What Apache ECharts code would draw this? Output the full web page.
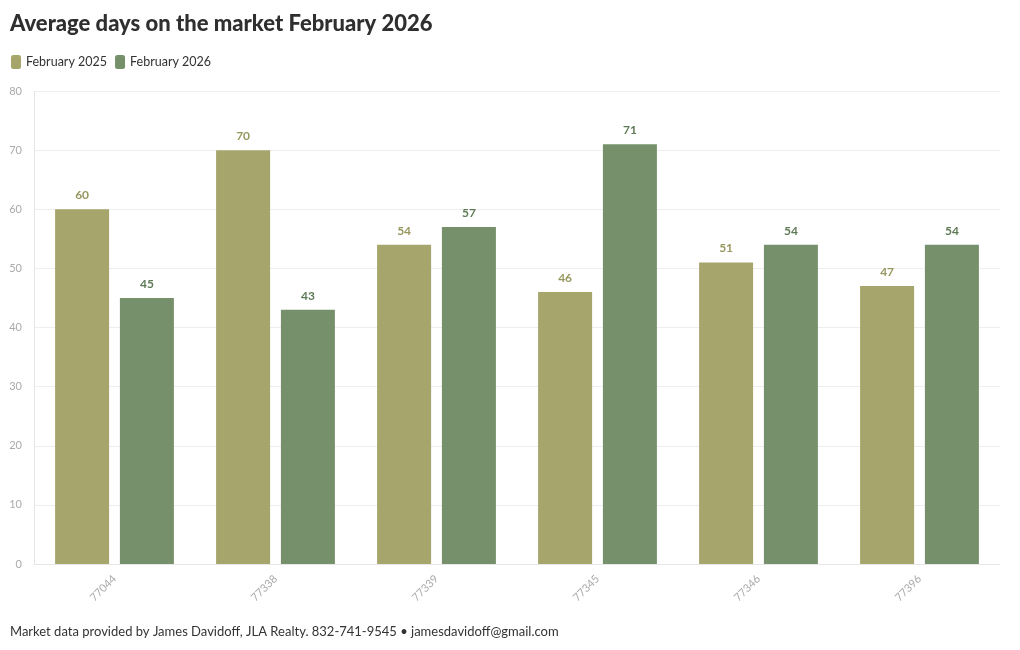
<!DOCTYPE html>
<html><head><meta charset="utf-8">
<script src="https://cdn.jsdelivr.net/npm/echarts@6/dist/echarts.min.js"></script>
<style>html,body{margin:0;padding:0;background:#fff;}#c{width:1020px;height:650px;}</style>
</head><body><div id="c"></div>
<script>
const categories = ['77044','77338','77339','77345','77346','77396'];
const feb2025 = [60,70,54,46,51,47];
const feb2026 = [45,43,57,71,54,54];
const yTicks = [0,10,20,30,40,50,60,70,80];
const FONT = 'Lato, "Open Sans", sans-serif';
const chart = echarts.init(document.getElementById('c'));
chart.setOption({
  backgroundColor:'#fff',
  textStyle:{fontFamily:FONT},
  title:[{text:'Average days on the market February 2026',left:10,top:13,padding:0,
    textStyle:{fontFamily:FONT,fontSize:22,fontWeight:900,color:'#2f2f2f'}},
    {text:'Market data provided by James Davidoff, JLA Realty. 832-741-9545 • jamesdavidoff@gmail.com',left:10,top:625,padding:0,
    textStyle:{fontFamily:FONT,fontSize:13,fontWeight:'normal',color:'#333333'}}],
  legend:{left:11,top:55,padding:0,itemWidth:10,itemHeight:14,itemGap:8,icon:'roundRect',
    textStyle:{fontFamily:FONT,fontSize:12.5,color:'#333'},
    data:['February 2025','February 2026']},
  grid:{left:34,right:20,top:91,bottom:86,containLabel:false},
  xAxis:{type:'category',data:categories,
    axisLine:{lineStyle:{color:'#e6e6e6'}},axisTick:{show:false},
    axisLabel:{rotate:45,color:'#aaaaaa',fontSize:11,margin:13,fontFamily:FONT}},
  yAxis:{type:'value',min:0,max:80,interval:10,
    axisLine:{show:true,lineStyle:{color:'#e6e6e6'}},
    splitLine:{lineStyle:{color:'#eeeeee'}},
    axisLabel:{color:'#aaaaaa',fontSize:11,margin:12,fontFamily:FONT,
      formatter:v=>yTicks.includes(v)?String(v):''}},
  series:[
    {name:'February 2025',type:'bar',data:feb2025,barWidth:54,barGap:'20%',
     itemStyle:{color:'#a6a56c'},
     label:{show:true,position:'top',distance:8,color:'#98975f',fontWeight:'bold',fontSize:12,fontFamily:FONT}},
    {name:'February 2026',type:'bar',data:feb2026,barWidth:54,
     itemStyle:{color:'#76906b'},
     label:{show:true,position:'top',distance:8,color:'#5f7a56',fontWeight:'bold',fontSize:12,fontFamily:FONT}}
  ]
});
</script></body></html>
